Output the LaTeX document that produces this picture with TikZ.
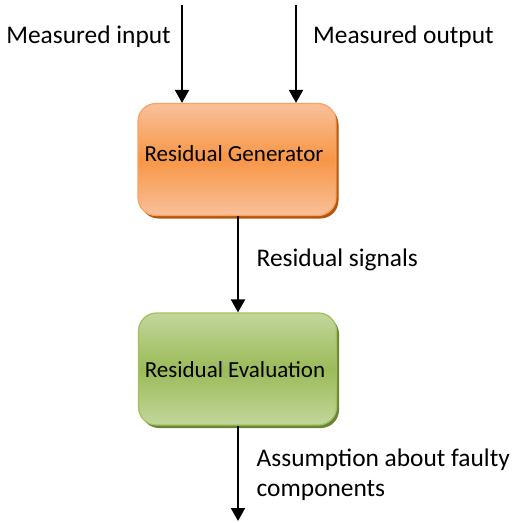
\documentclass[tikz,border=0pt]{standalone}
\usepackage{fontspec}
\setmainfont{Carlito}
\usetikzlibrary{arrows.meta}
\definecolor{orgmid}{HTML}{F79646}
\definecolor{orglight}{HTML}{FAC09A}
\definecolor{orgborder}{HTML}{F7A260}
\definecolor{orgshadow}{HTML}{B4570C}
\definecolor{grnmid}{HTML}{9BBB59}
\definecolor{grnlight}{HTML}{C3D69B}
\definecolor{grnborder}{HTML}{A2C060}
\definecolor{grnshadow}{HTML}{6A8535}
\tikzset{
  blockbox/.style={rounded corners=18pt, minimum width=198pt, minimum height=112pt, inner sep=0pt, line width=1.2pt},
  genbox/.style={blockbox, draw=orgborder, top color=orglight, bottom color=orglight, middle color=orgmid},
  evalbox/.style={blockbox, draw=grnborder, top color=grnlight, bottom color=grnlight, middle color=grnmid},
  shadowbox/.style={rounded corners=18pt, minimum width=198pt, minimum height=112pt, inner sep=0pt},
  boxtext/.style={inner sep=0pt, font=\fontsize{23}{28}\selectfont},
  arr/.style={line width=2pt, -{Triangle[width=14pt,length=13pt]}},
  lbl/.style={inner sep=0pt, font=\fontsize{25.4}{30}\selectfont}
}
\begin{document}
\begin{tikzpicture}[x=1pt,y=-1pt]
\useasboundingbox (0,0) rectangle (513,523);
% shadows
\node[shadowbox, fill=orgshadow] (gens) at (239.5,162.5) {};
\node[shadowbox, fill=grnshadow] (evals) at (240,372) {};
% boxes
\node[genbox] (gen) at (237,159.5) {};
\node[evalbox] (eval) at (237.5,369) {};
\node[boxtext, anchor=base] (gent) at (234,161.7) {Residual Generator};
\node[boxtext, anchor=base] (evalt) at (235,377) {Residual Evaluation};
% inputs
\coordinate (in1) at (182,5);
\coordinate (in2) at (296,5);
\coordinate (out) at (238,521);
\draw[arr] (in1) -- (in1 |- gen.north);
\draw[arr] (in2) -- (in2 |- gen.north);
\draw[arr] (gen.south -| out) -- (out |- eval.north);
\draw[arr] (eval.south -| out) -- (out);
% labels
\node[lbl, anchor=base east] (lin) at (171,43.3) {Measured input};
\node[lbl, anchor=base west] (lout) at (313,43.3) {Measured output};
\node[lbl, anchor=base west] (lres) at (256.5,266.7) {Residual signals};
\node[lbl, anchor=base west, align=left] (lass) at (256.5,496.7) {Assumption about faulty\\components};
\end{tikzpicture}
\end{document}
